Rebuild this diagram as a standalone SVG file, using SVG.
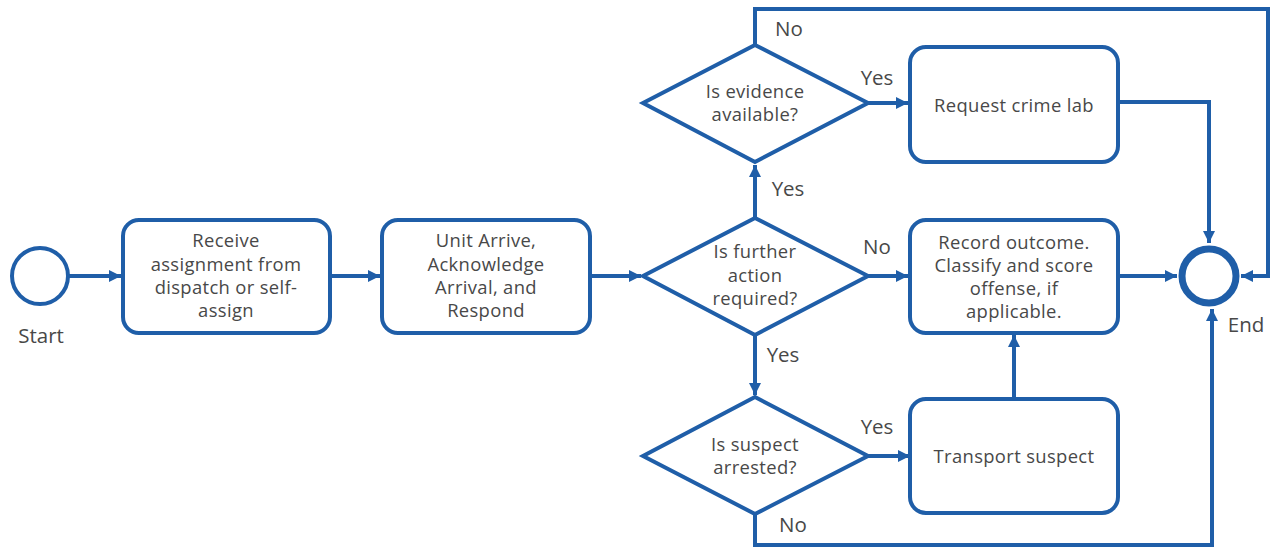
<svg xmlns="http://www.w3.org/2000/svg" width="1271" height="548" viewBox="0 0 1271 548">
<style>
.n{fill:#fff;stroke:#1f5ea8;stroke-width:4}
.c{fill:none;stroke:#1f5ea8;stroke-width:4}
.t{font-family:"Open Sans","Noto Sans",sans-serif;font-size:18.4px;letter-spacing:0.35px;fill:#484848;text-anchor:middle}
.l{font-family:"Open Sans","Noto Sans",sans-serif;font-size:20.5px;fill:#484848;text-anchor:middle}
</style>
<defs>
<marker id="a" markerUnits="userSpaceOnUse" markerWidth="14" markerHeight="14" refX="12" refY="6" orient="auto">
<path d="M0,0 L12,6 L0,12 Z" fill="#1f5ea8"/>
</marker>
</defs>
<rect width="1271" height="548" fill="#fff"/>
<g id="connectors">
<path class="c" d="M69,276 H121" marker-end="url(#a)"/>
<path class="c" d="M330,276 H380" marker-end="url(#a)"/>
<path class="c" d="M590,276 H641" marker-end="url(#a)"/>
<path class="c" d="M868,276 H908" marker-end="url(#a)"/>
<path class="c" d="M755,218 V165" marker-end="url(#a)"/>
<path class="c" d="M868,103 H908" marker-end="url(#a)"/>
<path class="c" d="M755,45 V9 H1268 V276 H1241" marker-end="url(#a)"/>
<path class="c" d="M1118,102 H1209 V243" marker-end="url(#a)"/>
<path class="c" d="M1118,276 H1177" marker-end="url(#a)"/>
<path class="c" d="M755,335 V395" marker-end="url(#a)"/>
<path class="c" d="M868,456 H910" marker-end="url(#a)"/>
<path class="c" d="M1014,399 V335" marker-end="url(#a)"/>
<path class="c" d="M755,514 V545 H1212 V309" marker-end="url(#a)"/>
<text class="l" x="789" y="36">No</text>
<text class="l" x="877" y="85">Yes</text>
<text class="l" x="788" y="196">Yes</text>
<text class="l" x="877" y="254">No</text>
<text class="l" x="783" y="362">Yes</text>
<text class="l" x="877" y="434">Yes</text>
<text class="l" x="793" y="532">No</text>
</g>
<g id="start">
<circle class="n" cx="40" cy="276" r="28"/>
<text class="l" x="41" y="343">Start</text>
</g>
<g id="receive">
<rect class="n" x="123" y="220" width="207" height="113" rx="16"/>
<text class="t" x="226" y="247">Receive</text>
<text class="t" x="226" y="271">assignment from</text>
<text class="t" x="226" y="294">dispatch or self-</text>
<text class="t" x="226" y="317">assign</text>
</g>
<g id="arrive">
<rect class="n" x="382" y="220" width="208" height="113" rx="16"/>
<text class="t" x="486" y="247">Unit Arrive,</text>
<text class="t" x="486" y="271">Acknowledge</text>
<text class="t" x="486" y="294">Arrival, and</text>
<text class="t" x="486" y="317">Respond</text>
</g>
<g id="further">
<polygon class="n" points="755,218 868,276 755,335 643,276"/>
<text class="t" x="755" y="258">Is further</text>
<text class="t" x="755" y="282">action</text>
<text class="t" x="755" y="305">required?</text>
</g>
<g id="evidence">
<polygon class="n" points="755,45 868,103 755,162 643,103"/>
<text class="t" x="755" y="98">Is evidence</text>
<text class="t" x="755" y="121">available?</text>
</g>
<g id="crimelab">
<rect class="n" x="910" y="47" width="208" height="115" rx="16"/>
<text class="t" x="1014" y="112">Request crime lab</text>
</g>
<g id="record">
<rect class="n" x="910" y="220" width="208" height="113" rx="16"/>
<text class="t" x="1014" y="249">Record outcome.</text>
<text class="t" x="1014" y="272">Classify and score</text>
<text class="t" x="1014" y="295">offense, if</text>
<text class="t" x="1014" y="318">applicable.</text>
</g>
<g id="suspect">
<polygon class="n" points="755,397 868,456 755,514 643,456"/>
<text class="t" x="755" y="451">Is suspect</text>
<text class="t" x="755" y="474">arrested?</text>
</g>
<g id="transport">
<rect class="n" x="910" y="399" width="208" height="114" rx="16"/>
<text class="t" x="1014" y="463">Transport suspect</text>
</g>
<g id="end">
<circle cx="1209" cy="276" r="27" fill="#fff" stroke="#1f5ea8" stroke-width="7"/>
<text class="l" x="1246" y="332">End</text>
</g>
</svg>
